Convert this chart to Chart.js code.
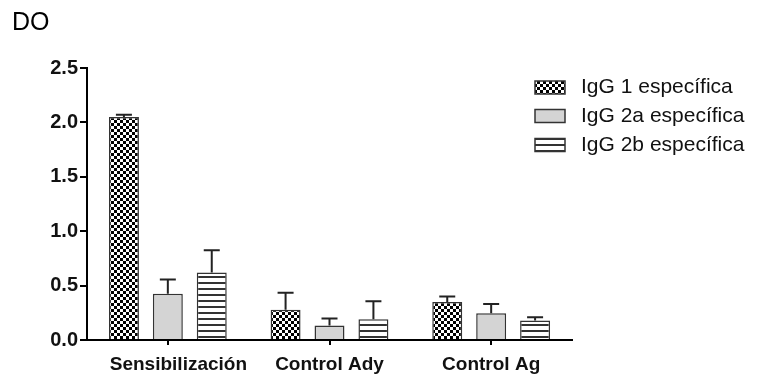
<!DOCTYPE html>
<html><head><meta charset="utf-8">
<script src="https://cdn.jsdelivr.net/npm/chart.js@4.4.0/dist/chart.umd.min.js"></script>
<style>html,body{margin:0;padding:0;background:#fff}#wrap{width:760px;height:374px;position:relative}</style>
</head><body><div id="wrap"><canvas id="c" width="760" height="374"></canvas></div>
<script>
const categories = ['Sensibilización', 'Control Ady', 'Control Ag'];
const seriesNames = ['IgG 1 específica', 'IgG 2a específica', 'IgG 2b específica'];
const igg1 = [2.05, 0.278, 0.35];
const igg2a = [0.425, 0.133, 0.247];
const igg2b = [0.62, 0.19, 0.18];
const igg1Err = [0.02, 0.157, 0.05];
const igg2aErr = [0.132, 0.065, 0.083];
const igg2bErr = [0.204, 0.167, 0.03];
const yTicks = [0, 0.5, 1.0, 1.5, 2.0, 2.5];
const yTitle = 'DO';

const FONT = '"Liberation Sans", Arial, Helvetica, sans-serif';

function makePattern(kind) {
  const pc = document.createElement('canvas');
  const ctx = pc.getContext('2d');
  pc.width = 6; pc.height = 6;
  ctx.fillStyle = '#fff'; ctx.fillRect(0, 0, 6, 6);
  if (kind === 'checker') {
    ctx.fillStyle = '#000';
    ctx.fillRect(0, 0, 3, 3); ctx.fillRect(3, 3, 3, 3);
  } else {
    ctx.fillStyle = '#333';
    ctx.fillRect(0, 0, 6, 2);
  }
  return document.getElementById('c').getContext('2d').createPattern(pc, 'repeat');
}
const checker = makePattern('checker');
const stripes = makePattern('stripes');
const fills = [checker, '#d4d4d4', stripes];
const errs = [igg1Err, igg2aErr, igg2bErr];

const errorBars = {
  id: 'errorBars',
  afterDatasetsDraw(chart) {
    const ctx = chart.ctx, ys = chart.scales.y;
    ctx.save();
    ctx.strokeStyle = '#222'; ctx.lineWidth = 2;
    chart.data.datasets.forEach((ds, i) => {
      const meta = chart.getDatasetMeta(i);
      meta.data.forEach((el, j) => {
        const top = ys.getPixelForValue(ds.data[j] + errs[i][j]);
        ctx.beginPath();
        ctx.moveTo(el.x, el.y); ctx.lineTo(el.x, top);
        ctx.moveTo(el.x - 8, top); ctx.lineTo(el.x + 8, top);
        ctx.stroke();
      });
    });
    ctx.restore();
  }
};

const legendAndTitle = {
  id: 'legendAndTitle',
  afterDraw(chart) {
    const ctx = chart.ctx;
    ctx.save();
    ctx.fillStyle = '#000';
    ctx.font = '25px ' + FONT;
    ctx.textBaseline = 'alphabetic';
    ctx.textAlign = 'left';
    ctx.fillText(yTitle, 12, 30);
    const ysC = [87.5, 116, 145];
    chart.data.datasets.forEach((ds, i) => {
      const cy = ysC[i];
      ctx.fillStyle = ds.backgroundColor;
      ctx.fillRect(535, cy - 6.5, 30, 13);
      ctx.strokeStyle = '#333'; ctx.lineWidth = 1.5;
      ctx.strokeRect(535, cy - 6.5, 30, 13);
      ctx.fillStyle = '#111';
      ctx.font = '21px ' + FONT;
      ctx.textBaseline = 'middle';
      ctx.fillText(ds.label, 581, cy);
    });
    ctx.restore();
  }
};

new Chart(document.getElementById('c'), {
  type: 'bar',
  data: {
    labels: categories,
    datasets: [igg1, igg2a, igg2b].map((d, i) => ({
      label: seriesNames[i],
      data: d,
      backgroundColor: fills[i],
      borderColor: '#333',
      borderWidth: 1.5,
      categoryPercentage: 0.815,
      barPercentage: 0.682
    }))
  },
  options: {
    responsive: false,
    animation: false,
    devicePixelRatio: 1,
    layout: { padding: { top: 68, right: 188, left: 0, bottom: 0 }, autoPadding: false },
    plugins: { legend: { display: false }, tooltip: { enabled: false }, title: { display: false } },
    scales: {
      x: {
        afterFit(s) { s.height = 34; s.paddingLeft = 0; s.paddingRight = 0; },
        border: { display: true, color: '#000', width: 2 },
        grid: { offset: false, drawOnChartArea: false, drawTicks: true, tickLength: 5, color: '#000', lineWidth: 2 },
        ticks: {
          color: '#111', padding: 8, maxRotation: 0, minRotation: 0, autoSkip: false,
          font: { family: FONT, size: 19, weight: 'bold' },
          callback: (v, i) => (i === 0 ? '\u2007\u2007' : '') + categories[i]
        }
      },
      y: {
        min: 0, max: 2.5,
        afterFit(s) { s.width = 87; s.paddingTop = 0; s.paddingBottom = 0; },
        afterBuildTicks(s) { s.ticks = yTicks.map(v => ({ value: v })); },
        border: { display: true, color: '#000', width: 2 },
        grid: { drawOnChartArea: false, drawTicks: true, tickLength: 7, color: '#000', lineWidth: 2 },
        ticks: { color: '#111', padding: 2, font: { family: FONT, size: 20, weight: 'bold' }, callback: v => Number(v).toFixed(1) }
      }
    }
  },
  plugins: [errorBars, legendAndTitle]
});
</script></body></html>
